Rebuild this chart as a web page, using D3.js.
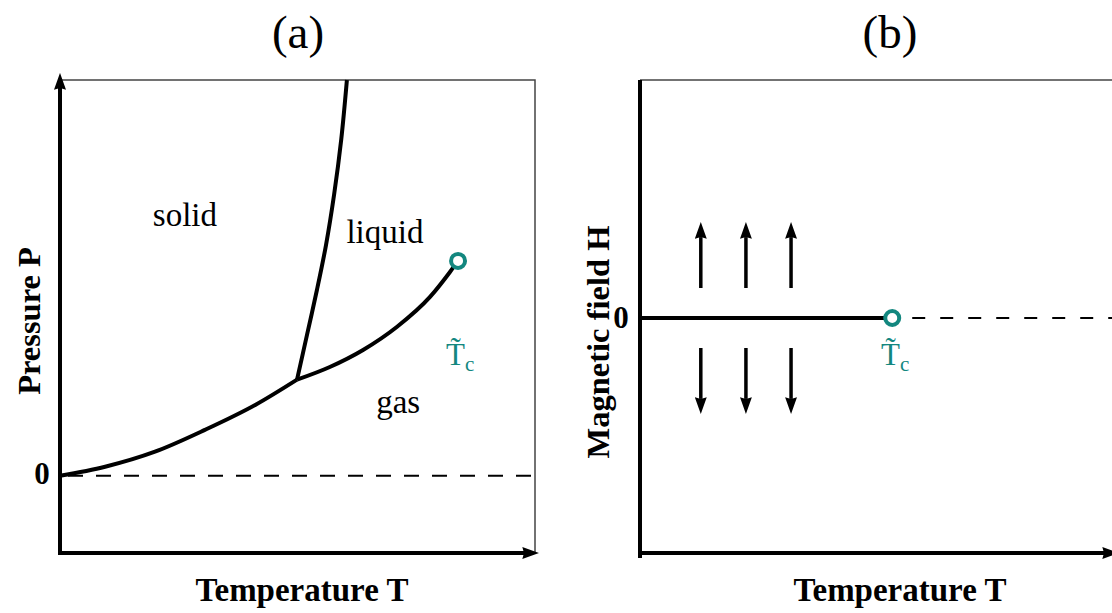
<!DOCTYPE html>
<html>
<head>
<meta charset="utf-8">
<script src="https://cdn.jsdelivr.net/npm/d3@7"></script>
<style>
  html, body { margin: 0; padding: 0; background: #fff; }
  svg { display: block; }
  text { font-family: "Liberation Serif", "Times New Roman", serif; }
</style>
</head>
<body>
<svg id="chart" width="1112" height="613"></svg>
<script>
// ---- data (T and P / H in reduced units) ----
const panelTitles = ["(a)", "(b)"];
const xAxisLabel = "Temperature T";
const pressureLabel = "Pressure P";
const fieldLabel = "Magnetic field H";
const zeroTick = "0";

// sublimation curve: origin to triple point
const sublimT = [0.000, 0.095, 0.200, 0.305, 0.411, 0.499];
const sublimP = [0.000, 0.023, 0.061, 0.116, 0.179, 0.243];
// vaporisation curve: triple point to critical point
const vaporT = [0.499, 0.568, 0.638, 0.709, 0.779, 0.821, 0.838];
const vaporP = [0.243, 0.275, 0.318, 0.376, 0.452, 0.515, 0.543];
// melting curve from the triple point upwards
const meltT = [0.499, 0.520, 0.541, 0.560, 0.577, 0.592, 0.604];
const meltP = [0.243, 0.356, 0.470, 0.583, 0.710, 0.849, 1.000];
// phase names and positions
const phaseNames = ["solid", "liquid", "gas"];
const phaseT = [0.263, 0.684, 0.712];
const phaseP = [0.632, 0.589, 0.159];
const criticalA = { T: 0.838, P: 0.543 };

// magnet: first-order line H = 0 up to the critical point, then crossover
const criticalB = { T: 0.531, H: 0 };
const spinT = [0.128, 0.223, 0.318];
const spinUp = [0.126, 0.403];
const spinDown = [-0.126, -0.403];

const teal = "#13877f";

const svg = d3.select("#chart");
const defs = svg.append("defs");
function addHead(id, w, h) {
  defs.append("marker").attr("id", id)
    .attr("viewBox", "0 0 10 10").attr("refX", 1).attr("refY", 5)
    .attr("markerWidth", w).attr("markerHeight", h).attr("orient", "auto")
    .attr("preserveAspectRatio", "none")
    .attr("markerUnits", "strokeWidth")
    .append("path").attr("d", "M0,0 L10,5 L0,10 L1,5 Z").attr("fill", "#000");
}
addHead("head", 4.2, 3.0);
addHead("spinhead", 4.8, 3.4);

// ---------------- panel (a) ----------------
const xa = d3.scaleLinear().domain([0, 1]).range([60, 535]);
const ya = d3.scaleLinear().domain([-0.195, 1]).range([553, 80]);

const ga = svg.append("g");
// thin top and right frame
ga.append("path").attr("d", `M${xa(0)},${ya(1)} H${xa(1)} V${ya(-0.195)}`)
  .attr("fill", "none").attr("stroke", "#444").attr("stroke-width", 1.5);
// zero-pressure dashed line
ga.append("line").attr("x1", xa(0)).attr("x2", xa(1)).attr("y1", ya(0)).attr("y2", ya(0))
  .attr("stroke", "#000").attr("stroke-width", 2).attr("stroke-dasharray", "15,13")
  .attr("stroke-dashoffset", -8);
// axes with arrow heads
ga.append("line").attr("x1", xa(0)).attr("x2", xa(0)).attr("y1", ya(-0.195) + 2).attr("y2", ya(1) + 8)
  .attr("stroke", "#000").attr("stroke-width", 4).attr("marker-end", "url(#head)");
ga.append("line").attr("x1", xa(0) - 2).attr("x2", xa(1) - 11).attr("y1", ya(-0.195)).attr("y2", ya(-0.195))
  .attr("stroke", "#000").attr("stroke-width", 4).attr("marker-end", "url(#head)");

// coexistence lines
const lineX = d3.line().x(d => xa(d[0])).y(d => ya(d[1])).curve(d3.curveMonotoneX);
const lineMelt = d3.line().x(d => xa(d[0])).y(d => ya(d[1])).curve(d3.curveCatmullRom.alpha(0.5));
[[sublimT, sublimP, lineX], [vaporT, vaporP, lineX], [meltT, meltP, lineMelt]].forEach(([t, p, gen]) => {
  ga.append("path").attr("d", gen(d3.zip(t, p)))
    .attr("fill", "none").attr("stroke", "#000").attr("stroke-width", 4)
    .attr("stroke-linejoin", "round");
});

ga.selectAll("text.phase").data(phaseNames).join("text").attr("class", "phase")
  .attr("x", (d, i) => xa(phaseT[i])).attr("y", (d, i) => ya(phaseP[i]))
  .attr("text-anchor", "middle").attr("font-size", 33).text(d => d);

ga.append("circle").attr("cx", xa(criticalA.T)).attr("cy", ya(criticalA.P)).attr("r", 7)
  .attr("fill", "#fff").attr("stroke", teal).attr("stroke-width", 4);

function tcLabel(g, x, y) {
  const t = g.append("text").attr("x", x).attr("y", y).attr("fill", teal).attr("font-size", 31);
  t.append("tspan").text("T\u0303");
  t.append("tspan").attr("font-size", 21).attr("dy", 6).text("c");
}
tcLabel(ga, 446, 365);

ga.append("text").attr("x", 42).attr("y", 484).attr("text-anchor", "middle")
  .attr("font-size", 31).attr("font-weight", "bold").text(zeroTick);
ga.append("text").attr("x", 302).attr("y", 601).attr("text-anchor", "middle")
  .attr("font-size", 33).attr("font-weight", "bold").text(xAxisLabel);
ga.append("text").attr("transform", "translate(40,321) rotate(-90)").attr("text-anchor", "middle")
  .attr("font-size", 32.5).attr("font-weight", "bold").text(pressureLabel);
ga.append("text").attr("x", 298).attr("y", 48).attr("text-anchor", "middle")
  .attr("font-size", 47).text(panelTitles[0]);

// ---------------- panel (b) ----------------
const xb = d3.scaleLinear().domain([0, 1]).range([640, 1115]);
const yb = d3.scaleLinear().domain([-1, 1]).range([556, 80]);

const gb = svg.append("g");
gb.append("line").attr("x1", xb(0)).attr("x2", xb(1)).attr("y1", yb(1)).attr("y2", yb(1))
  .attr("stroke", "#444").attr("stroke-width", 1.5);
// crossover (dashed) beyond the critical point
gb.append("line").attr("x1", xb(criticalB.T)).attr("x2", xb(1)).attr("y1", yb(0)).attr("y2", yb(0))
  .attr("stroke", "#000").attr("stroke-width", 2).attr("stroke-dasharray", "13,15")
  .attr("stroke-dashoffset", -20);
// first-order line
gb.append("line").attr("x1", xb(0)).attr("x2", xb(criticalB.T)).attr("y1", yb(0)).attr("y2", yb(0))
  .attr("stroke", "#000").attr("stroke-width", 4);
// axes
gb.append("line").attr("x1", xb(0)).attr("x2", xb(0)).attr("y1", yb(-1) + 2).attr("y2", yb(1))
  .attr("stroke", "#000").attr("stroke-width", 4);
gb.append("line").attr("x1", xb(0) - 2).attr("x2", xb(1) - 11).attr("y1", yb(-1) - 3).attr("y2", yb(-1) - 3)
  .attr("stroke", "#000").attr("stroke-width", 4).attr("marker-end", "url(#head)");

// spin arrows
gb.selectAll("line.up").data(spinT).join("line").attr("class", "up")
  .attr("x1", d => xb(d)).attr("x2", d => xb(d))
  .attr("y1", yb(spinUp[0])).attr("y2", yb(spinUp[1]) + 15)
  .attr("stroke", "#000").attr("stroke-width", 3.5).attr("marker-end", "url(#spinhead)");
gb.selectAll("line.down").data(spinT).join("line").attr("class", "down")
  .attr("x1", d => xb(d)).attr("x2", d => xb(d))
  .attr("y1", yb(spinDown[0])).attr("y2", yb(spinDown[1]) - 15)
  .attr("stroke", "#000").attr("stroke-width", 3.5).attr("marker-end", "url(#spinhead)");

gb.append("circle").attr("cx", xb(criticalB.T)).attr("cy", yb(criticalB.H)).attr("r", 7)
  .attr("fill", "#fff").attr("stroke", teal).attr("stroke-width", 4);
tcLabel(gb, 881, 365);

gb.append("text").attr("x", 621).attr("y", 328).attr("text-anchor", "middle")
  .attr("font-size", 31).attr("font-weight", "bold").text(zeroTick);
gb.append("text").attr("x", 900).attr("y", 601).attr("text-anchor", "middle")
  .attr("font-size", 33).attr("font-weight", "bold").text(xAxisLabel);
gb.append("text").attr("transform", "translate(609,342) rotate(-90)").attr("text-anchor", "middle")
  .attr("font-size", 32.5).attr("font-weight", "bold").text(fieldLabel);
gb.append("text").attr("x", 890).attr("y", 48).attr("text-anchor", "middle")
  .attr("font-size", 47).text(panelTitles[1]);
</script>
</body>
</html>
